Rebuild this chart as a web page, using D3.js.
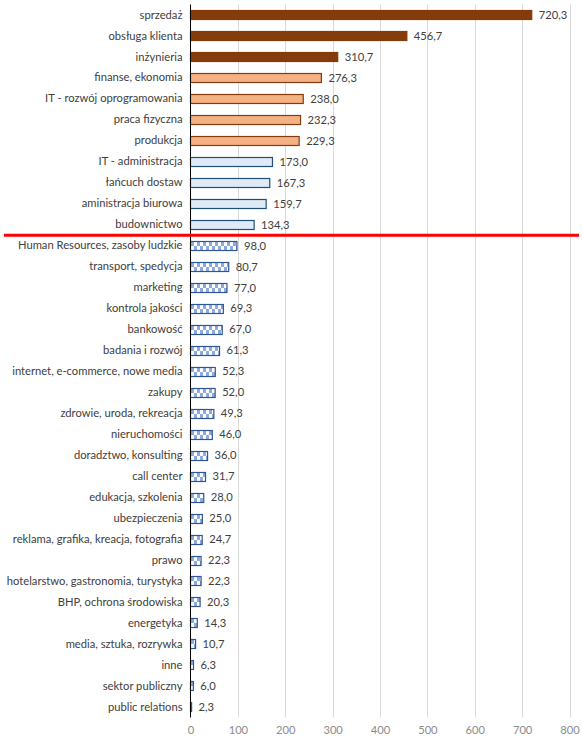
<!DOCTYPE html>
<html><head><meta charset="utf-8">
<script src="https://cdn.jsdelivr.net/npm/d3@7"></script>
<style>body{margin:0;background:#fff}svg{display:block}</style>
</head><body>
<svg id="c" width="582" height="743"></svg>
<script>
const categories = ["sprzedaż","obsługa klienta","inżynieria","finanse, ekonomia","IT - rozwój oprogramowania","praca fizyczna","produkcja","IT - administracja","łańcuch dostaw","aministracja biurowa","budownictwo","Human Resources, zasoby ludzkie","transport, spedycja","marketing","kontrola jakości","bankowość","badania i rozwój","internet, e-commerce, nowe media","zakupy","zdrowie, uroda, rekreacja","nieruchomości","doradztwo, konsulting","call center","edukacja, szkolenia","ubezpieczenia","reklama, grafika, kreacja, fotografia","prawo","hotelarstwo, gastronomia, turystyka","BHP, ochrona środowiska","energetyka","media, sztuka, rozrywka","inne","sektor publiczny","public relations"];
const values = [720.3,456.7,310.7,276.3,238.0,232.3,229.3,173.0,167.3,159.7,134.3,98.0,80.7,77.0,69.3,67.0,61.3,52.3,52.0,49.3,46.0,36.0,31.7,28.0,25.0,24.7,22.3,22.3,20.3,14.3,10.7,6.3,6.0,2.3];
const groups = [0,0,0,1,1,1,1,2,2,2,2,3,3,3,3,3,3,3,3,3,3,3,3,3,3,3,3,3,3,3,3,3,3,3];
const xTicks = [0,100,200,300,400,500,600,700,800];

const svg = d3.select("#c");
const defs = svg.append("defs");

const x = d3.scaleLinear().domain([0,800]).range([190.5,569.5]);
const y = d3.scaleBand().domain(categories).range([4.5,717.5]).paddingInner(0.55).paddingOuter(0.275);
const barY = i => Math.round(y(categories[i]))+0.5;
const barH = Math.round(y.bandwidth());

// one checkerboard pattern per patterned bar, aligned to the bar's top edge
values.forEach((v,i)=>{
  if(groups[i]!==3) return;
  const p = defs.append("pattern").attr("id","chk"+i).attr("patternUnits","userSpaceOnUse")
    .attr("x",191).attr("y",barY(i)+0.5).attr("width",6).attr("height",8);
  p.append("rect").attr("width",6).attr("height",8).attr("fill","#ffffff");
  p.append("rect").attr("x",0).attr("y",0).attr("width",3).attr("height",4).attr("fill","#8FAADC");
  p.append("rect").attr("x",3).attr("y",4).attr("width",3).attr("height",4).attr("fill","#8FAADC");
});

const fills = ["#843C0C","#F4B183","#DEEBF7",null];
const strokes = ["#843C0C","#843C0C","#1F4E79","#2F5597"];

const font = "Lato, 'Open Sans', sans-serif";
const fs = "11.2px";

// gridlines
svg.append("g").selectAll("line").data(xTicks.slice(1)).join("line")
  .attr("x1",d=>Math.round(x(d))+0.5).attr("x2",d=>Math.round(x(d))+0.5)
  .attr("y1",4.5).attr("y2",717.5).attr("stroke","#d9d9d9").attr("stroke-width",1);

// x axis labels
const xa = svg.append("g").attr("transform","translate(0,717.5)")
  .call(d3.axisBottom(x).tickValues(xTicks).tickSize(0).tickPadding(9));
xa.select(".domain").remove();
xa.selectAll("text").attr("fill","#8c8c8c").style("font-family",font).style("font-size",fs);

// bars
svg.append("g").selectAll("rect").data(values).join("rect")
  .attr("x",x(0)).attr("y",(d,i)=>barY(i))
  .attr("width",d=>Math.max(0.5,x(d)-x(0)))
  .attr("height",barH)
  .attr("fill",(d,i)=>groups[i]===3 ? `url(#chk${i})` : fills[groups[i]])
  .attr("stroke",(d,i)=>strokes[groups[i]]).attr("stroke-width",1.2);

// value labels
svg.append("g").selectAll("text").data(values).join("text")
  .attr("x",d=>x(d)+7).attr("y",(d,i)=>y(categories[i])+y.bandwidth()/2)
  .attr("dy","0.35em").attr("fill","#404040").style("font-family",font).style("font-size",fs)
  .text(d=>d.toFixed(1).replace(".",","));

// y axis
const ya = svg.append("g").attr("transform",`translate(${x(0)},0)`)
  .call(d3.axisLeft(y).tickSize(0).tickPadding(8));
ya.select(".domain").attr("stroke","#000").attr("d","M0,4.5V717.5");
ya.selectAll("text").attr("fill","#404040").style("font-family",font).style("font-size",fs);

// red separator
const sepY = (y(categories[10])+y.bandwidth() + y(categories[11]))/2;
svg.append("line").attr("x1",4).attr("x2",579).attr("y1",sepY).attr("y2",sepY)
  .attr("stroke","#FF0000").attr("stroke-width",3);
</script>
</body></html>
